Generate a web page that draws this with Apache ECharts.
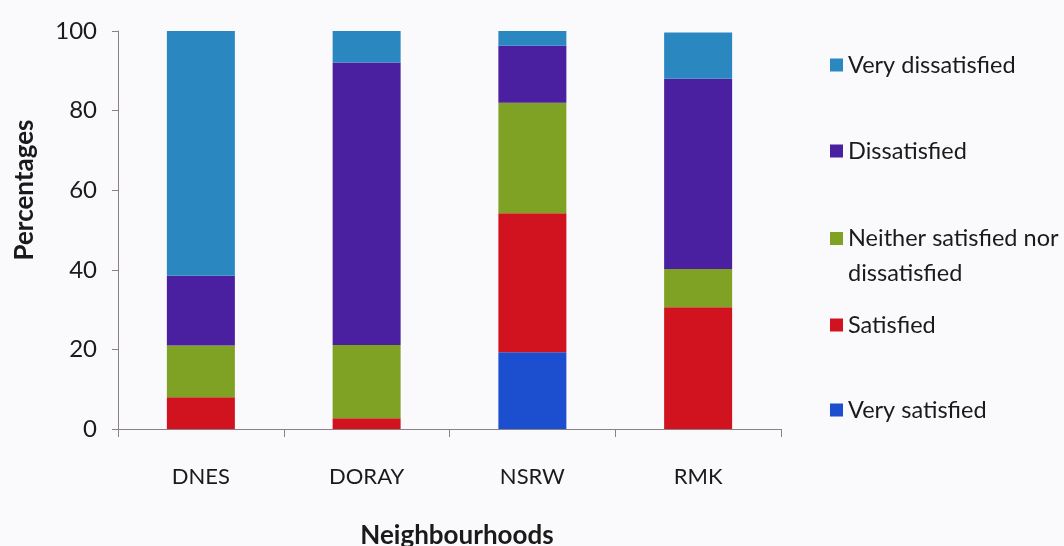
<!DOCTYPE html>
<html>
<head>
<meta charset="utf-8">
<script src="https://cdn.jsdelivr.net/npm/echarts@6/dist/echarts.min.js"></script>
<style>
  html, body { margin: 0; padding: 0; background: #fafafc; }
  #main { width: 1064px; height: 546px; }
</style>
</head>
<body>
<div id="main"></div>
<script>
var categories = ['DNES', 'DORAY', 'NSRW', 'RMK'];
var seriesNames = ['Very satisfied', 'Satisfied', 'Neither satisfied nor dissatisfied', 'Dissatisfied', 'Very dissatisfied'];
var verySatisfied = [0, 0, 19.3, 0];
var satisfied = [8, 2.7, 34.9, 30.6];
var neither = [13, 18.4, 27.8, 9.6];
var dissatisfied = [17.5, 71, 14.3, 47.8];
var veryDissatisfied = [61.5, 8, 3.7, 11.6];
var colors = ['#1b4fcf', '#d0131f', '#7fa224', '#4a1fa0', '#2a87c0'];

var myChart = echarts.init(document.getElementById('main'));
var font = 'Lato, "Open Sans", sans-serif';
var values = [verySatisfied, satisfied, neither, dissatisfied, veryDissatisfied];

var series = [];
for (var i = 0; i < seriesNames.length; i++) {
    series.push({
        name: seriesNames[i],
        type: 'bar',
        stack: 'total',
        barWidth: 68,
        itemStyle: { color: colors[i] },
        data: values[i]
    });
}

// one legend per item so the odd spacing of the original can be kept
var legendTops = [47, 133, 181, 307, 392];
var legendOrder = [4, 3, 2, 1, 0];
var legends = legendOrder.map(function (idx, k) {
    var multi = idx === 2;
    return {
        left: 825,
        top: legendTops[k],
        selectedMode: false,
        itemWidth: 13,
        itemHeight: 13,
        itemGap: 6,
        icon: 'rect',
        data: [seriesNames[idx]],
        // empty first line so the icon sits next to the first visible line
        formatter: multi ? function () { return '\u00a0\nNeither satisfied nor\ndissatisfied'; } : '{name}',
        textStyle: {
            fontFamily: font,
            fontSize: 23.5,
            color: '#1a1a1a',
            lineHeight: multi ? 35 : 26
        }
    };
});

var option = {
    backgroundColor: '#fafafc',
    animation: false,
    legend: legends,
    grid: { left: 118, right: 283, top: 31, bottom: 117, outerBoundsMode: 'none', containLabel: false },
    xAxis: {
        type: 'category',
        data: categories,
        name: 'Neighbourhoods',
        nameLocation: 'middle',
        nameGap: 94,
        nameTextStyle: { fontFamily: font, fontSize: 26, fontWeight: 'bold', color: '#1a1a1a', padding: [0, 0, 0, 15] },
        axisLine: { lineStyle: { color: '#8c8088', width: 1 } },
        axisTick: { show: true, length: 8, alignWithLabel: false, lineStyle: { color: '#8c8088' } },
        axisLabel: { fontFamily: font, fontSize: 22, color: '#1a1a1a', margin: 37 }
    },
    yAxis: {
        type: 'value',
        min: 0,
        max: 100,
        interval: 20,
        name: 'Percentages',
        nameLocation: 'middle',
        nameGap: 80,
        nameTextStyle: { fontFamily: font, fontSize: 26, fontWeight: 'bold', color: '#1a1a1a', padding: [0, 0, 0, 80] },
        axisLine: { show: true, lineStyle: { color: '#8c8088', width: 1 } },
        axisTick: { show: true, length: 6, lineStyle: { color: '#8c8088' } },
        splitLine: { show: false },
        axisLabel: { fontFamily: font, fontSize: 24, color: '#1a1a1a', margin: 21 }
    },
    series: series
};

myChart.setOption(option);
</script>
</body>
</html>
